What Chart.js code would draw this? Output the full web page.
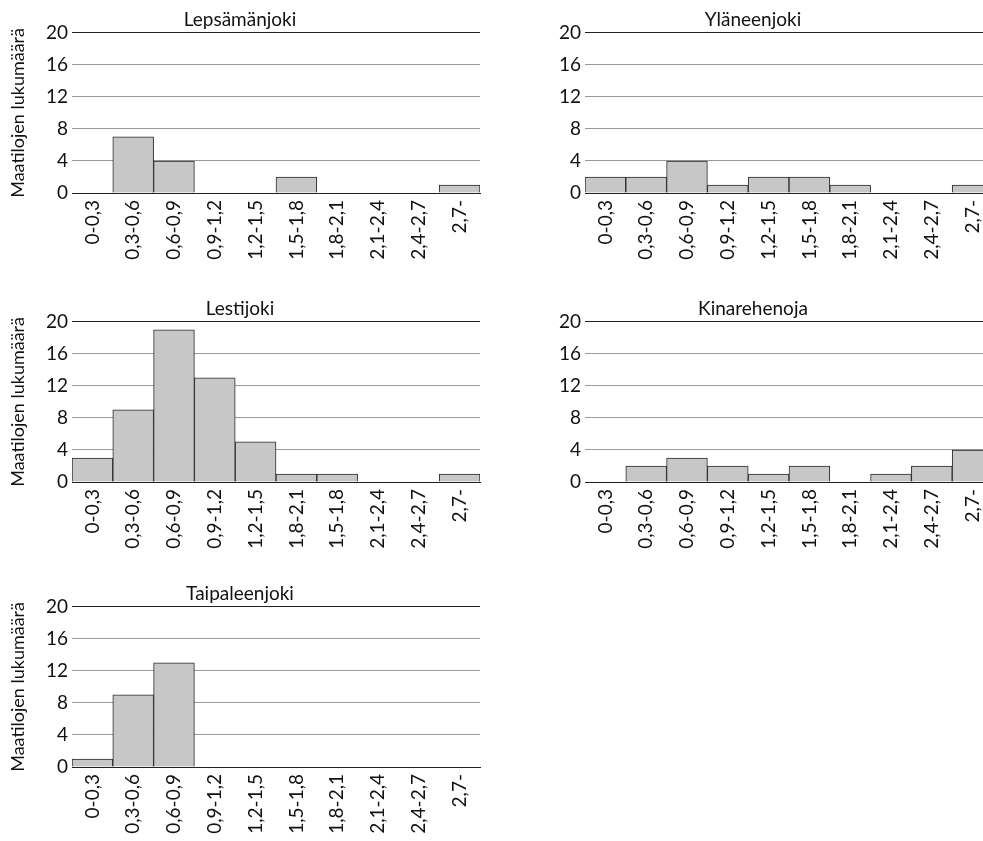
<!DOCTYPE html>
<html>
<head>
<meta charset="utf-8">
<script src="https://cdn.jsdelivr.net/npm/chart.js@4/dist/chart.umd.min.js"></script>
<style>
  html, body { margin: 0; padding: 0; background: #fff; overflow: hidden; }
  body { width: 983px; height: 841px; position: relative; }
  canvas { position: absolute; }
</style>
</head>
<body>
<canvas id="c1" width="490" height="268" style="left:0;top:0"></canvas>
<canvas id="c2" width="490" height="268" style="left:513px;top:0"></canvas>
<canvas id="c3" width="490" height="268" style="left:0;top:289px"></canvas>
<canvas id="c4" width="490" height="268" style="left:513px;top:289px"></canvas>
<canvas id="c5" width="490" height="268" style="left:0;top:574px"></canvas>
<script>
// size classes (ha), as printed under each chart
var classes = ['0-0,3', '0,3-0,6', '0,6-0,9', '0,9-1,2', '1,2-1,5', '1,5-1,8', '1,8-2,1', '2,1-2,4', '2,4-2,7', '2,7-'];
// Lestijoki chart prints 1,8-2,1 before 1,5-1,8
var classesLestijoki = ['0-0,3', '0,3-0,6', '0,6-0,9', '0,9-1,2', '1,2-1,5', '1,8-2,1', '1,5-1,8', '2,1-2,4', '2,4-2,7', '2,7-'];

var lepsamanjoki = [0, 7, 4, 0, 0, 2, 0, 0, 0, 1];
var ylaneenjoki = [2, 2, 4, 1, 2, 2, 1, 0, 0, 1];
var lestijoki = [3, 9, 19, 13, 5, 1, 1, 0, 0, 1];
var kinarehenoja = [0, 2, 3, 2, 1, 2, 0, 1, 2, 4];
var taipaleenjoki = [1, 9, 13, 0, 0, 0, 0, 0, 0, 0];

var yTicks = [0, 4, 8, 12, 16, 20];
var yTitle = 'Maatilojen lukumäärä';

var FONT = 'Lato, "DejaVu Sans", sans-serif';

function makeChart(id, title, labels, values, showYTitle) {
  var ctx = document.getElementById(id).getContext('2d');
  return new Chart(ctx, {
    type: 'bar',
    data: {
      labels: labels,
      datasets: [{
        data: values,
        backgroundColor: '#c7c7c7',
        borderColor: '#2a2a2a',
        borderWidth: 1,
        borderSkipped: 'bottom',
        barPercentage: 1,
        categoryPercentage: 1
      }]
    },
    options: {
      responsive: false,
      animation: false,
      devicePixelRatio: 1,
      layout: { padding: { left: 0, right: 10, top: 0, bottom: 0 } },
      plugins: {
        legend: { display: false },
        tooltip: { enabled: false },
        title: {
          display: true,
          text: title,
          color: '#111',
          font: { family: FONT, size: 19, weight: 'normal' },
          padding: { top: 8, bottom: 2 }
        }
      },
      scales: {
        x: {
          grid: { display: false, drawTicks: false },
          border: { display: true, color: '#222', width: 1 },
          ticks: {
            color: '#111',
            font: { family: FONT, size: 19 },
            minRotation: 90,
            maxRotation: 90,
            autoSkip: false,
            padding: 7
          },
          afterFit: function(scale) { scale.height = 75; }
        },
        y: {
          min: 0,
          max: 20,
          afterBuildTicks: function(scale) {
            scale.ticks = yTicks.map(function(v) { return { value: v }; });
          },
          grid: {
            drawTicks: false,
            color: function(c) {
              if (c.tick && (c.tick.value === 20 || c.tick.value === 0)) return '#222';
              return '#9a9a9a';
            },
            lineWidth: 1
          },
          border: { display: false },
          ticks: {
            color: '#111',
            font: { family: FONT, size: 19 },
            padding: 4
          },
          title: {
            display: showYTitle,
            text: yTitle,
            color: '#111',
            font: { family: FONT, size: 18 },
            padding: { top: 7, bottom: 0 }
          },
          afterFit: function(scale) { scale.width = 72; }
        }
      }
    }
  });
}

makeChart('c1', 'Lepsämänjoki', classes, lepsamanjoki, true);
makeChart('c2', 'Yläneenjoki', classes, ylaneenjoki, false);
makeChart('c3', 'Lestijoki', classesLestijoki, lestijoki, true);
makeChart('c4', 'Kinarehenoja', classes, kinarehenoja, false);
makeChart('c5', 'Taipaleenjoki', classes, taipaleenjoki, true);
</script>
</body>
</html>
